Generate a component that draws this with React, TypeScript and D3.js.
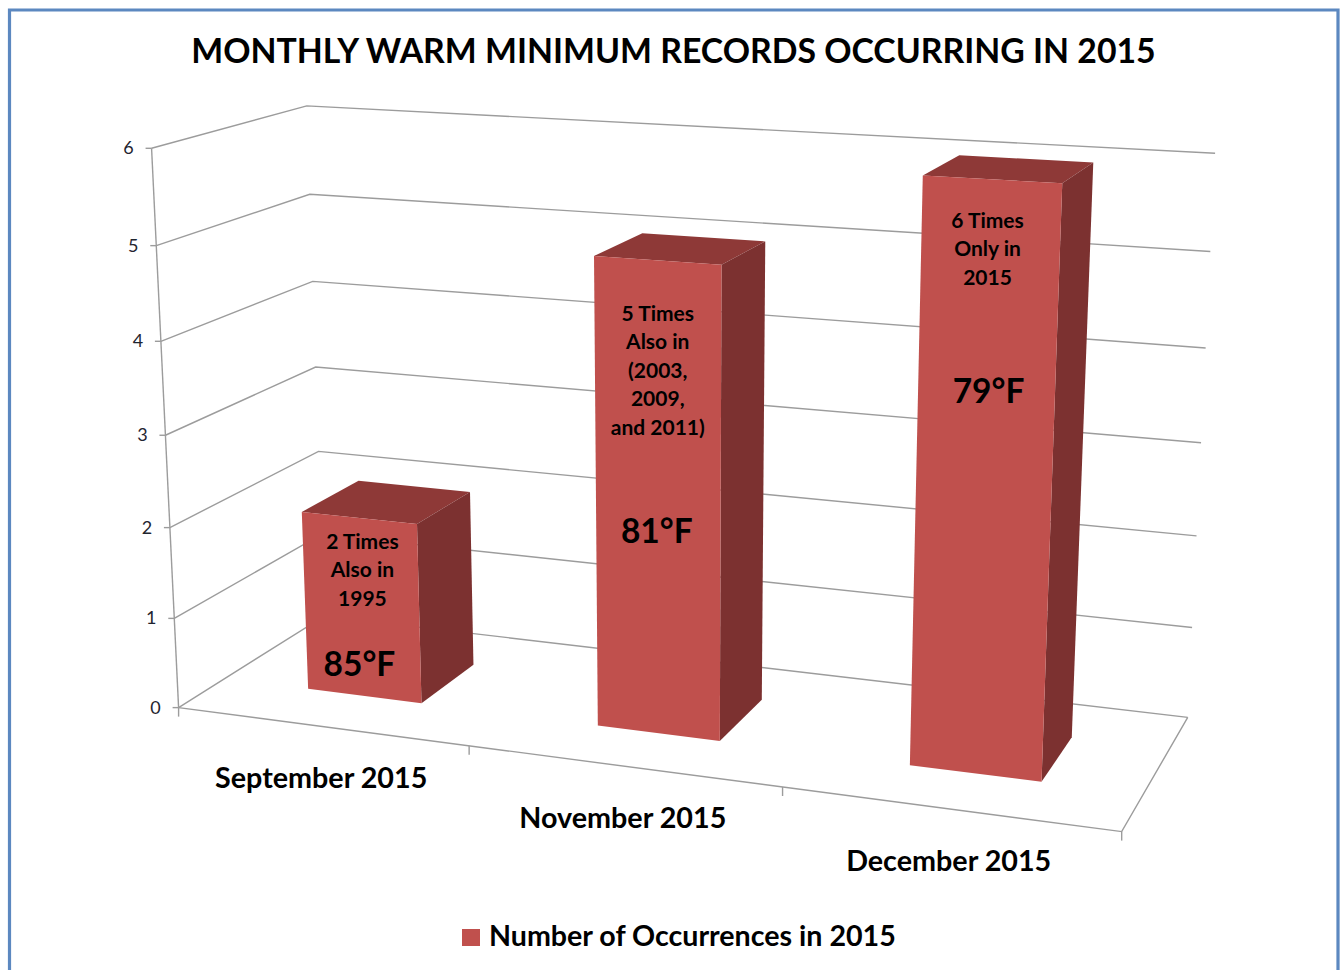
import * as d3 from 'd3';

const title = 'MONTHLY WARM MINIMUM RECORDS OCCURRING IN 2015';
const legendLabel = 'Number of Occurrences in 2015';

const categories = ['September 2015', 'November 2015', 'December 2015'];
const occurrences = [2, 5, 6];
const tempLabels = ['85°F', '81°F', '79°F'];
const barNotes = [
  ['2 Times', 'Also in', '1995'],
  ['5 Times', 'Also in', '(2003,', '2009,', 'and 2011)'],
  ['6 Times', 'Only in', '2015'],
];
const valueTicks = [0, 1, 2, 3, 4, 5, 6];

// where the note blocks sit on the front faces
const noteTop = [540, 312, 219];
const noteShift = [3, 0, -5];
const tempY = [663, 530, 390];
const tempShift = [0, -1, -4];

const font = 'Lato, "Open Sans", sans-serif';
const gridColor = '#9c9c9c';

const uScale = d3.scaleBand<string>().domain(categories).range([0, 1]).paddingInner(0.6).paddingOuter(0.3);
const wScale = d3.scaleLinear().domain([0, 6]).range([0, 1]);
const depth = { front: 0.3, back: 0.7 };

// known spots of the 3D box: u across, v into the page, value, then screen x, y
const calibration = [
  [0, 0, 0, 178, 708], [0, 0, 1, 175, 618], [0, 0, 2, 170, 527], [0, 0, 5, 157, 245], [0, 0, 6, 151, 149],
  [0, 1, 6, 307, 106], [0, 1, 5, 309, 194], [0, 1, 2, 318, 451], [0, 1, 0, 325, 617],
  [1, 1, 6, 1215, 154], [1, 1, 3, 1202, 442], [1, 1, 0, 1187, 717], [1, 0, 0, 1122, 832],
  [1 / 3, 0, 0, 469, 746], [2 / 3, 0, 0, 782, 787],
];

// least squares fit of a projective camera, so bars get the picture's perspective
function fitCamera() {
  const rows: number[][] = [];
  const rhs: number[] = [];
  calibration.forEach(([u, v, val, sx, sy]) => {
    const w = wScale(val);
    const x = sx / 1000;
    const y = sy / 1000;
    rows.push([u, v, w, 1, 0, 0, 0, 0, -x * u, -x * v, -x * w]);
    rhs.push(x);
    rows.push([0, 0, 0, 0, u, v, w, 1, -y * u, -y * v, -y * w]);
    rhs.push(y);
  });
  const n = 11;
  const m = d3.range(n).map(i =>
    d3.range(n + 1).map(j =>
      j < n ? d3.sum(rows, r => r[i] * r[j]) : d3.sum(rows, (r, k) => r[i] * rhs[k])
    )
  );
  for (let c = 0; c < n; c++) {
    let best = c;
    for (let r = c + 1; r < n; r++) if (Math.abs(m[r][c]) > Math.abs(m[best][c])) best = r;
    [m[c], m[best]] = [m[best], m[c]];
    for (let r = 0; r < n; r++) {
      if (r === c) continue;
      const f = m[r][c] / m[c][c];
      for (let k = c; k <= n; k++) m[r][k] -= f * m[c][k];
    }
  }
  return m.map((row, i) => row[n] / row[i]);
}

const p = fitCamera();

function project(u: number, v: number, val: number): [number, number] {
  const w = wScale(val);
  const d = p[8] * u + p[9] * v + p[10] * w + 1;
  return [
    (1000 * (p[0] * u + p[1] * v + p[2] * w + p[3])) / d,
    (1000 * (p[4] * u + p[5] * v + p[6] * w + p[7])) / d,
  ];
}

const line = d3.line();
const closed = d3.line().curve(d3.curveLinearClosed);

export default function App() {
  const floor = line([project(0, 0, 0), project(1, 0, 0), project(1, 1, 0)]) as string;

  return (
    <svg
      width={1343}
      height={970}
      style={{ position: 'absolute', left: 0, top: 0, background: '#fff' }}
      fontFamily={font}
    >
      <path d="M9.5 975V10H1338V975" fill="none" stroke="#5c88c0" strokeWidth={3.2} />

      <text x={673.5} y={50} textAnchor="middle" dominantBaseline="central" fontSize={33.8} fontWeight={700} fill="#000">
        {title}
      </text>

      {/* walls and floor */}
      <g fill="none" stroke={gridColor} strokeWidth={1.4}>
        {valueTicks.map(t => (
          <path key={t} d={line([project(0, 0, t), project(0, 1, t), project(1, 1, t)]) as string} />
        ))}
        <path d={line([project(0, 0, 0), project(0, 0, 6)]) as string} />
        <path d={floor} />
        {valueTicks.map(t => {
          const [x, y] = project(0, 0, t);
          return <path key={t} d={`M${x - 6} ${y}H${x}`} />;
        })}
        {[0, 1 / 3, 2 / 3, 1].map(u => {
          const [x, y] = project(u, 0, 0);
          return <path key={u} d={`M${x} ${y}V${y + 9}`} />;
        })}
      </g>

      {valueTicks.map(t => {
        const [x, y] = project(0, 0, t);
        return (
          <text key={t} x={x - 23} y={y - 1} textAnchor="middle" dominantBaseline="central" fontSize={18} fill="#1f2530">
            {t}
          </text>
        );
      })}

      {/* bars */}
      {categories.map((c, i) => {
        const u0 = uScale(c) as number;
        const u1 = u0 + uScale.bandwidth();
        const val = occurrences[i];
        const { front, back } = depth;
        const midX = (project(u0, front, val)[0] + project(u1, front, val)[0]) / 2;
        return (
          <g key={c}>
            <path
              fill="#8e3937"
              d={closed([project(u0, front, val), project(u1, front, val), project(u1, back, val), project(u0, back, val)]) as string}
            />
            <path
              fill="#7c3130"
              d={closed([project(u1, front, 0), project(u1, back, 0), project(u1, back, val), project(u1, front, val)]) as string}
            />
            <path
              fill="#c0504d"
              d={closed([project(u0, front, 0), project(u1, front, 0), project(u1, front, val), project(u0, front, val)]) as string}
            />
            {barNotes[i].map((note, k) => (
              <text
                key={k}
                x={midX + noteShift[i]}
                y={noteTop[i] + k * 28.6}
                textAnchor="middle"
                dominantBaseline="central"
                fontSize={21}
                fontWeight={700}
                fill="#000"
              >
                {note}
              </text>
            ))}
            <text
              x={midX + tempShift[i]}
              y={tempY[i]}
              textAnchor="middle"
              dominantBaseline="central"
              fontSize={33.5}
              fontWeight={700}
              fill="#000"
            >
              {tempLabels[i]}
            </text>
          </g>
        );
      })}

      {categories.map(c => {
        const mid = (uScale(c) as number) + uScale.bandwidth() / 2;
        const [x, y] = project(mid, 0, 0);
        return (
          <text key={c} x={x} y={y + 51} textAnchor="middle" dominantBaseline="central" fontSize={28.7} fontWeight={700} fill="#000">
            {c}
          </text>
        );
      })}

      <rect x={462} y={929} width={18} height={17} fill="#c0504d" />
      <text x={489} y={935} dominantBaseline="central" fontSize={28.6} fontWeight={700} fill="#000">
        {legendLabel}
      </text>
    </svg>
  );
}
